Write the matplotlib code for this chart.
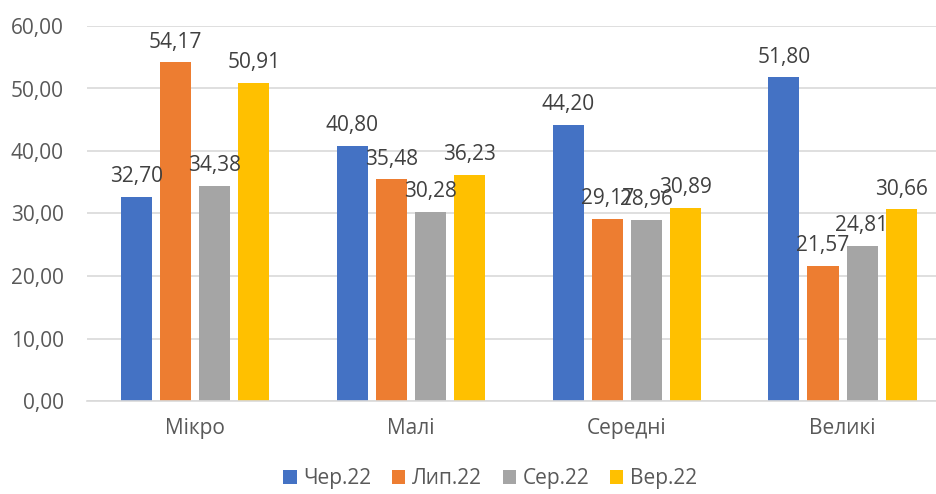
import matplotlib.pyplot as plt
import matplotlib.ticker as ticker
import numpy as np

categories = ['Мікро', 'Малі', 'Середні', 'Великі']
series_names = ['Чер.22', 'Лип.22', 'Сер.22', 'Вер.22']
cher = [32.70, 40.80, 44.20, 51.80]
lyp = [54.17, 35.48, 29.17, 21.57]
ser = [34.38, 30.28, 28.96, 24.81]
ver = [50.91, 36.23, 30.89, 30.66]
colors = ['#4472C4', '#ED7D31', '#A5A5A5', '#FFC000']

plt.rcParams['font.family'] = ['Open Sans', 'DejaVu Sans']
text_color = '#595959'

fig = plt.figure(figsize=(9.37, 4.94), dpi=100)
# plot area reaches a bit past the right edge, as in the original
ax = fig.add_axes([87.4 / 937, 93 / 494, 863 / 937, 375 / 494])

x = np.arange(len(categories))
pitch = 0.181
width = 0.144
for i, (vals, name, col) in enumerate(zip([cher, lyp, ser, ver], series_names, colors)):
    pos = x + (i - 1.5) * pitch
    ax.bar(pos, vals, width, color=col, label=name, zorder=2)
    for p, v in zip(pos, vals):
        ax.annotate(f"{v:.2f}".replace('.', ','), (p, v), xytext=(0, 7),
                    textcoords='offset points', ha='center', va='bottom',
                    fontsize=15, color='#404040', zorder=3)

ax.set_xlim(-0.5, 3.5)
ax.set_ylim(0, 60)
ax.set_yticks(np.arange(0, 61, 10))
ax.yaxis.set_major_formatter(ticker.FuncFormatter(lambda v, _: f"{v:.2f}".replace('.', ',')))
ax.set_xticks(x)
ax.set_xticklabels(categories)
ax.grid(axis='y', color='#d9d9d9', linewidth=1.2, zorder=0)
for s in ['top', 'right', 'left']:
    ax.spines[s].set_visible(False)
ax.spines['bottom'].set_color('#d9d9d9')
ax.spines['bottom'].set_linewidth(1.2)
ax.tick_params(axis='both', length=0, labelsize=15, colors=text_color)
ax.tick_params(axis='x', pad=12)
ax.tick_params(axis='y', pad=17)

leg = fig.legend(loc='lower center', bbox_to_anchor=(490 / 937, -0.028), ncol=4, frameon=False,
                 fontsize=15, handlelength=0.65, handleheight=0.65, handletextpad=0.3,
                 columnspacing=1.0)
for t in leg.get_texts():
    t.set_color(text_color)

plt.savefig('out.png', dpi=100)
